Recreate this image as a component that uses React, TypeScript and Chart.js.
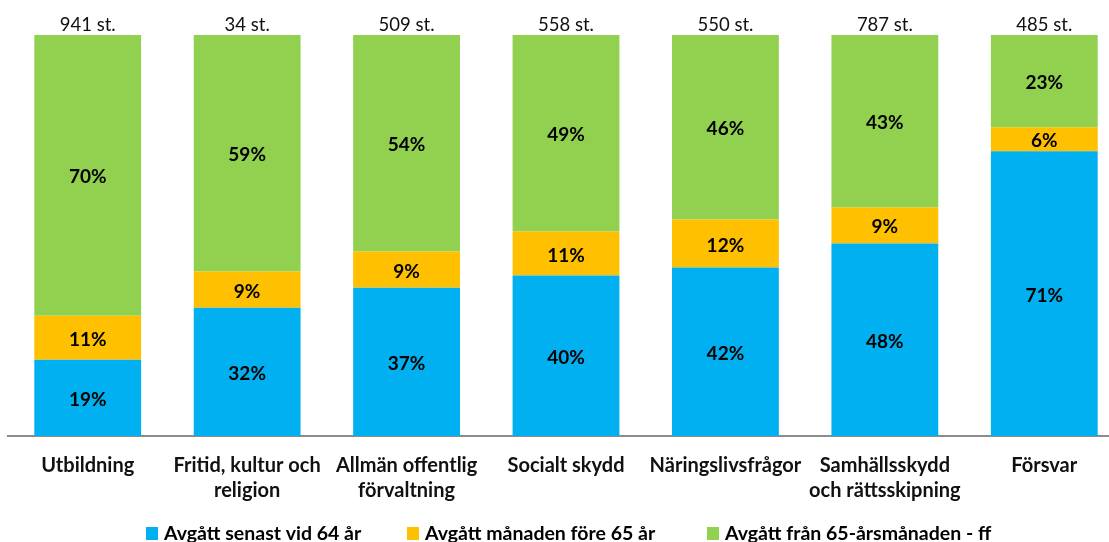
import React, { useEffect, useRef } from "react";
import { Chart, registerables } from "chart.js";

Chart.register(...registerables);

const categories: string[][] = [
  ["Utbildning"],
  ["Fritid, kultur och", "religion"],
  ["Allmän offentlig", "förvaltning"],
  ["Socialt skydd"],
  ["Näringslivsfrågor"],
  ["Samhällsskydd", "och rättsskipning"],
  ["Försvar"],
];
const totals: string[] = ["941 st.", "34 st.", "509 st.", "558 st.", "550 st.", "787 st.", "485 st."];
const seriesNames: string[] = [
  "Avgått senast vid 64 år",
  "Avgått månaden före 65 år",
  "Avgått från 65-årsmånaden - ff",
];
const before64: number[] = [19, 32, 37, 40, 42, 48, 71];
const monthBefore65: number[] = [11, 9, 9, 11, 12, 9, 6];
const from65: number[] = [70, 59, 54, 49, 46, 43, 23];
const colors: string[] = ["#00B0F0", "#FFC000", "#92D050"];

const FONT = "Lato, 'Open Sans', sans-serif";
const LEGEND_X = [146, 407, 707];
const LEGEND_BASELINE = 540;

const labelPlugin = {
  id: "labels",
  afterDatasetsDraw(chart: any) {
    const ctx = chart.ctx;
    ctx.save();
    ctx.textAlign = "center";
    ctx.textBaseline = "alphabetic";
    ctx.fillStyle = "#000";
    ctx.font = `bold 19px ${FONT}`;
    chart.data.datasets.forEach((ds: any, di: number) => {
      const meta = chart.getDatasetMeta(di);
      meta.data.forEach((bar: any, i: number) => {
        const v = ds.data[i];
        ctx.fillText(`${v}%`, bar.x, (bar.y + bar.base) / 2 + 8);
      });
    });
    const last = chart.getDatasetMeta(chart.data.datasets.length - 1);
    ctx.font = `18.5px ${FONT}`;
    ctx.fillStyle = "#111";
    last.data.forEach((bar: any, i: number) => {
      ctx.fillText(totals[i], bar.x, bar.y - 4);
    });
    // legend
    ctx.textAlign = "left";
    ctx.font = `bold 19.5px ${FONT}`;
    chart.data.datasets.forEach((ds: any, di: number) => {
      const x = LEGEND_X[di];
      ctx.fillStyle = ds.backgroundColor;
      ctx.fillRect(x, LEGEND_BASELINE - 13, 12, 13);
      ctx.fillStyle = "#000";
      ctx.fillText(ds.label, x + 18, LEGEND_BASELINE);
    });
    ctx.restore();
  },
};

export default function App() {
  const ref = useRef<HTMLCanvasElement>(null);
  useEffect(() => {
    if (!ref.current) return;
    const datasets = [before64, monthBefore65, from65].map((d, i) => ({
      label: seriesNames[i],
      data: d,
      backgroundColor: colors[i],
      borderWidth: 0,
      categoryPercentage: 0.67,
      barPercentage: 1,
    }));
    const chart = new Chart(ref.current, {
      type: "bar",
      data: { labels: categories, datasets },
      plugins: [labelPlugin],
      options: {
        animation: false,
        responsive: false,
        layout: { padding: { top: 35, left: 8, right: 1, bottom: 0 } },
        plugins: {
          tooltip: { enabled: false },
          legend: { display: false },
        },
        scales: {
          x: {
            stacked: true,
            afterFit: (axis: any) => {
              axis.height = 106;
            },
            grid: { display: false, drawTicks: false },
            border: { display: true, color: "#8c8c8c", width: 2 },
            ticks: {
              color: "#111",
              padding: 17,
              maxRotation: 0,
              autoSkip: false,
              font: { family: FONT, size: 20, weight: "bold", lineHeight: 1.25 },
            },
          },
          y: {
            stacked: true,
            min: 0,
            max: 100,
            display: false,
          },
        },
      },
    });
    return () => chart.destroy();
  }, []);
  return (
    <div style={{ position: "fixed", left: 0, top: 0, width: 1109, height: 542, overflow: "hidden", background: "#fff" }}>
      <canvas ref={ref} width={1125} height={542} style={{ display: "block" }} />
    </div>
  );
}
